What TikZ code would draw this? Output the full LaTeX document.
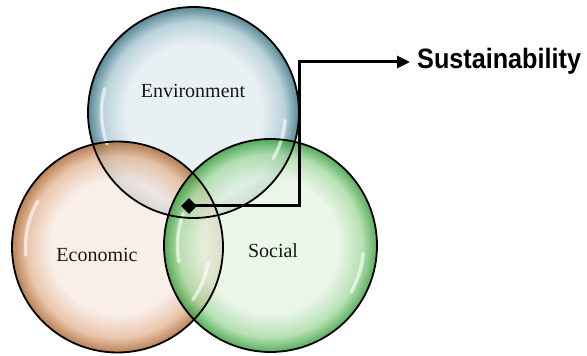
\documentclass[tikz,border=0pt]{standalone}
\usepackage{fontspec}
\setmainfont{Liberation Serif}
\newfontfamily\susfont[FakeStretch=0.9]{Liberation Sans}
\usetikzlibrary{shapes.geometric,arrows.meta}
\definecolor{envin}{HTML}{E4EDF1}
\definecolor{envmid}{HTML}{A9C8D2}
\definecolor{envout}{HTML}{2F6B7B}
\definecolor{ecoin}{HTML}{F8EAE3}
\definecolor{ecomid}{HTML}{E4B897}
\definecolor{ecoout}{HTML}{A8622C}
\definecolor{socin}{HTML}{E5F4E3}
\definecolor{socmid}{HTML}{A6DAA1}
\definecolor{socout}{HTML}{2F9A35}
\pgfdeclareradialshading{envsh}{\pgfpoint{0bp}{0bp}}{color(0bp)=(envin); color(16bp)=(envin); color(21.5bp)=(envmid); color(25bp)=(envout); color(50bp)=(envout)}
\pgfdeclareradialshading{ecosh}{\pgfpoint{0bp}{0bp}}{color(0bp)=(ecoin); color(16bp)=(ecoin); color(21.5bp)=(ecomid); color(25bp)=(ecoout); color(50bp)=(ecoout)}
\pgfdeclareradialshading{socsh}{\pgfpoint{0bp}{0bp}}{color(0bp)=(socin); color(16bp)=(socin); color(21.5bp)=(socmid); color(25bp)=(socout); color(50bp)=(socout)}
\tikzset{
  bubble/.style={circle, inner sep=0pt, fill opacity=0.8, draw=none},
  rim/.style={draw=black, line width=1.8pt},
  gloss/.style={white, line width=3.5pt, line cap=round, opacity=0.6},
  lbl/.style={font=\fontsize{20}{24}\selectfont, text=black!90},
  conn/.style={line width=3pt, black},
}
\begin{document}
\begin{tikzpicture}[x=1pt,y=1pt]
\useasboundingbox[fill=white] (0,0) rectangle (587,356);
% bubbles
\node[bubble, shading=envsh, minimum size=211pt] (env) at (193.5,243.5) {};
\node[bubble, shading=ecosh, minimum size=211pt] (eco) at (117.5,109) {};
\node[bubble, shading=socsh, minimum size=213pt] (soc) at (270.5,110.5) {};
% gloss highlights
\draw[gloss] ([shift={(165:92)}]env.center) arc[start angle=165, end angle=200, radius=92];
\draw[gloss] ([shift={(-30:92)}]env.center) arc[start angle=-30, end angle=-5, radius=92];
\draw[gloss] ([shift={(150:92)}]eco.center) arc[start angle=150, end angle=185, radius=92];
\draw[gloss] ([shift={(-35:92)}]eco.center) arc[start angle=-35, end angle=-10, radius=92];
\draw[gloss] ([shift={(160:93)}]soc.center) arc[start angle=160, end angle=190, radius=93];
\draw[gloss] ([shift={(-30:93)}]soc.center) arc[start angle=-30, end angle=-5, radius=93];
% outlines
\draw[rim] (env.center) circle[radius=105.5];
\draw[rim] (eco.center) circle[radius=105.5];
\draw[rim] (soc.center) circle[radius=106.5];
% labels
\node[lbl] (envl) at (193,265) {Environment};
\node[lbl] (ecol) at (97,101) {Economic};
\node[lbl] (socl) at (273,105.5) {Social};
% connector
\node[diamond, fill=black, inner sep=0pt, minimum size=16pt] (dia) at (189,150) {};
\node[anchor=west, inner sep=0pt, font=\susfont\bfseries\fontsize{28}{32}\selectfont] (sus) at (417,295) {Sustainability};
\coordinate (bend) at (299,294);
\draw[conn, -{Triangle[length=13pt,width=12pt]}, shorten >=7pt] (dia.center) -| (bend) -- (sus.west |- bend);
\end{tikzpicture}
\end{document}
